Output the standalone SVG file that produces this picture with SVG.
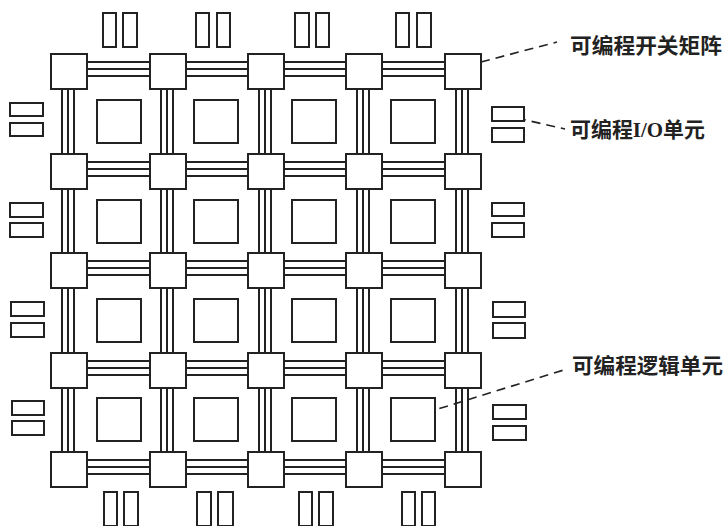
<svg xmlns="http://www.w3.org/2000/svg" width="724" height="526" viewBox="0 0 724 526">
<style>
  rect { fill: #ffffff; stroke: #222222; stroke-width: 2; }
  .bus { fill: none; stroke: #222222; stroke-width: 2; }
  .lead { fill: none; stroke: #222222; stroke-width: 1.6; stroke-dasharray: 9 6; }
  text { font-family: "Noto Sans CJK SC", "Liberation Sans", sans-serif; font-size: 21px; font-weight: bold; fill: #222222; }
  .lat { font-family: "Liberation Serif", "Noto Sans CJK SC", serif; font-weight: bold; }
</style>
<rect x="0" y="0" width="724" height="526" style="fill:#ffffff;stroke:none"/>

<g id="connectors">
  <!-- horizontal buses -->
  <path class="bus" d="M87 62H150M87 69H150M87 76H150 M186 62H248M186 69H248M186 76H248 M284 62H346M284 69H346M284 76H346 M382 62H445M382 69H445M382 76H445"/>
  <path class="bus" d="M87 162H150M87 169H150M87 176H150 M186 162H248M186 169H248M186 176H248 M284 162H346M284 169H346M284 176H346 M382 162H445M382 169H445M382 176H445"/>
  <path class="bus" d="M87 261H150M87 268H150M87 275H150 M186 261H248M186 268H248M186 275H248 M284 261H346M284 268H346M284 275H346 M382 261H445M382 268H445M382 275H445"/>
  <path class="bus" d="M87 361H150M87 368H150M87 375H150 M186 361H248M186 368H248M186 375H248 M284 361H346M284 368H346M284 375H346 M382 361H445M382 368H445M382 375H445"/>
  <path class="bus" d="M87 460H150M87 467H150M87 474H150 M186 460H248M186 467H248M186 474H248 M284 460H346M284 467H346M284 474H346 M382 460H445M382 467H445M382 474H445"/>
  <!-- vertical buses -->
  <path class="bus" d="M62 89V154M68 89V154M74 89V154 M62 189V253M68 189V253M74 189V253 M62 288V353M68 288V353M74 288V353 M62 388V452M68 388V452M74 388V452"/>
  <path class="bus" d="M161 89V154M167 89V154M173 89V154 M161 189V253M167 189V253M173 189V253 M161 288V353M167 288V353M173 288V353 M161 388V452M167 388V452M173 388V452"/>
  <path class="bus" d="M259 89V154M265 89V154M271 89V154 M259 189V253M265 189V253M271 189V253 M259 288V353M265 288V353M271 288V353 M259 388V452M265 388V452M271 388V452"/>
  <path class="bus" d="M357 89V154M363 89V154M369 89V154 M357 189V253M363 189V253M369 189V253 M357 288V353M363 288V353M369 288V353 M357 388V452M363 388V452M369 388V452"/>
  <path class="bus" d="M456 89V154M462 89V154M468 89V154 M456 189V253M462 189V253M468 189V253 M456 288V353M462 288V353M468 288V353 M456 388V452M462 388V452M468 388V452"/>
  <!-- label leaders -->
  <path class="lead" d="M481 62L557 42"/>
  <path class="lead" d="M517 118L565 129"/>
  <path class="lead" d="M425 413L567 369"/>
</g>

<!-- switch matrices -->
<g id="sw-0-0"><rect x="51" y="54" width="36" height="35"/></g>
<g id="sw-0-1"><rect x="150" y="54" width="36" height="35"/></g>
<g id="sw-0-2"><rect x="248" y="54" width="36" height="35"/></g>
<g id="sw-0-3"><rect x="346" y="54" width="36" height="35"/></g>
<g id="sw-0-4"><rect x="445" y="54" width="36" height="35"/></g>
<g id="sw-1-0"><rect x="51" y="154" width="36" height="35"/></g>
<g id="sw-1-1"><rect x="150" y="154" width="36" height="35"/></g>
<g id="sw-1-2"><rect x="248" y="154" width="36" height="35"/></g>
<g id="sw-1-3"><rect x="346" y="154" width="36" height="35"/></g>
<g id="sw-1-4"><rect x="445" y="154" width="36" height="35"/></g>
<g id="sw-2-0"><rect x="51" y="253" width="36" height="35"/></g>
<g id="sw-2-1"><rect x="150" y="253" width="36" height="35"/></g>
<g id="sw-2-2"><rect x="248" y="253" width="36" height="35"/></g>
<g id="sw-2-3"><rect x="346" y="253" width="36" height="35"/></g>
<g id="sw-2-4"><rect x="445" y="253" width="36" height="35"/></g>
<g id="sw-3-0"><rect x="51" y="353" width="36" height="35"/></g>
<g id="sw-3-1"><rect x="150" y="353" width="36" height="35"/></g>
<g id="sw-3-2"><rect x="248" y="353" width="36" height="35"/></g>
<g id="sw-3-3"><rect x="346" y="353" width="36" height="35"/></g>
<g id="sw-3-4"><rect x="445" y="353" width="36" height="35"/></g>
<g id="sw-4-0"><rect x="51" y="452" width="36" height="35"/></g>
<g id="sw-4-1"><rect x="150" y="452" width="36" height="35"/></g>
<g id="sw-4-2"><rect x="248" y="452" width="36" height="35"/></g>
<g id="sw-4-3"><rect x="346" y="452" width="36" height="35"/></g>
<g id="sw-4-4"><rect x="445" y="452" width="36" height="35"/></g>

<!-- logic blocks -->
<g id="lb-0-0"><rect x="97" y="100" width="44" height="43"/></g>
<g id="lb-0-1"><rect x="194" y="100" width="44" height="43"/></g>
<g id="lb-0-2"><rect x="292" y="100" width="44" height="43"/></g>
<g id="lb-0-3"><rect x="391" y="100" width="44" height="43"/></g>
<g id="lb-1-0"><rect x="97" y="200" width="44" height="43"/></g>
<g id="lb-1-1"><rect x="194" y="200" width="44" height="43"/></g>
<g id="lb-1-2"><rect x="292" y="200" width="44" height="43"/></g>
<g id="lb-1-3"><rect x="391" y="200" width="44" height="43"/></g>
<g id="lb-2-0"><rect x="97" y="299" width="44" height="43"/></g>
<g id="lb-2-1"><rect x="194" y="299" width="44" height="43"/></g>
<g id="lb-2-2"><rect x="292" y="299" width="44" height="43"/></g>
<g id="lb-2-3"><rect x="391" y="299" width="44" height="43"/></g>
<g id="lb-3-0"><rect x="97" y="398" width="44" height="43"/></g>
<g id="lb-3-1"><rect x="194" y="398" width="44" height="43"/></g>
<g id="lb-3-2"><rect x="292" y="398" width="44" height="43"/></g>
<g id="lb-3-3"><rect x="391" y="398" width="44" height="43"/></g>

<!-- I/O units top -->
<g id="io-top-0"><rect x="103" y="13" width="13" height="34"/><rect x="123" y="13" width="14" height="34"/></g>
<g id="io-top-1"><rect x="196" y="13" width="13" height="34"/><rect x="217" y="13" width="13" height="34"/></g>
<g id="io-top-2"><rect x="295" y="13" width="14" height="34"/><rect x="316" y="13" width="13" height="34"/></g>
<g id="io-top-3"><rect x="396" y="13" width="13" height="34"/><rect x="417" y="13" width="14" height="34"/></g>
<!-- I/O units bottom -->
<g id="io-bot-0"><rect x="104" y="492" width="13" height="34"/><rect x="124" y="492" width="14" height="34"/></g>
<g id="io-bot-1"><rect x="197" y="492" width="14" height="34"/><rect x="218" y="492" width="15" height="34"/></g>
<g id="io-bot-2"><rect x="299" y="492" width="13" height="34"/><rect x="319" y="492" width="14" height="34"/></g>
<g id="io-bot-3"><rect x="402" y="492" width="13" height="34"/><rect x="422" y="492" width="13" height="34"/></g>
<!-- I/O units left -->
<g id="io-left-0"><rect x="10" y="103" width="33" height="13"/><rect x="10" y="123" width="33" height="13"/></g>
<g id="io-left-1"><rect x="10" y="203" width="33" height="14"/><rect x="10" y="223" width="33" height="14"/></g>
<g id="io-left-2"><rect x="11" y="302" width="33" height="14"/><rect x="11" y="323" width="33" height="14"/></g>
<g id="io-left-3"><rect x="12" y="401" width="32" height="14"/><rect x="12" y="421" width="32" height="14"/></g>
<!-- I/O units right -->
<g id="io-right-0"><rect x="492" y="107" width="32" height="14"/><rect x="492" y="128" width="32" height="14"/></g>
<g id="io-right-1"><rect x="492" y="203" width="32" height="13"/><rect x="492" y="223" width="32" height="14"/></g>
<g id="io-right-2"><rect x="493" y="302" width="32" height="15"/><rect x="493" y="323" width="32" height="15"/></g>
<g id="io-right-3"><rect x="493" y="405" width="33" height="14"/><rect x="493" y="426" width="33" height="14"/></g>

<!-- labels -->
<g id="label-switch"><text x="570" y="53" textLength="152" lengthAdjust="spacingAndGlyphs">可编程开关矩阵</text></g>
<g id="label-io"><text x="570" y="137" textLength="135" lengthAdjust="spacingAndGlyphs">可编程<tspan class="lat">I/O</tspan>单元</text></g>
<g id="label-logic"><text x="572" y="373" textLength="151" lengthAdjust="spacingAndGlyphs">可编程逻辑单元</text></g>
</svg>
